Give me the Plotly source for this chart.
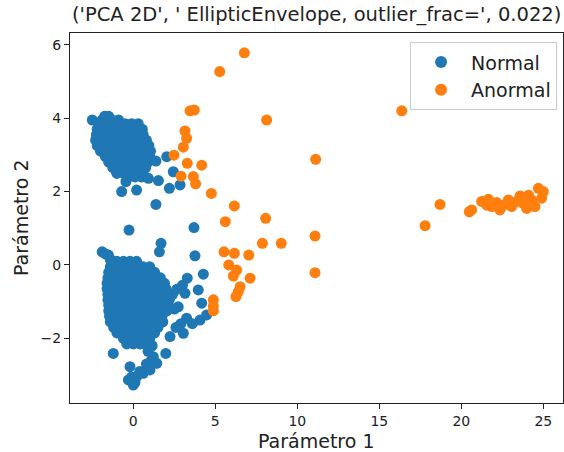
import plotly.graph_objects as go

# ---- Normal points (inliers), grouped by region -----------------------------
# Upper cluster, listed row by row: (y value, x values along that row)
upper_rows = [
    (4.05, [-1.75, -1.5]),
    (3.95, [-2.5, -1.9, -1.3, -0.9]),
    (3.85, [-2.1, -1.7, -1.3, -0.9, -0.5, -0.1, 0.3]),
    (3.70, [-2.2, -1.8, -1.4, -1.0, -0.6, -0.2, 0.2, 0.55]),
    (3.55, [-2.25, -1.85, -1.45, -1.05, -0.65, -0.25, 0.15, 0.6]),
    (3.40, [-2.3, -1.9, -1.5, -1.1, -0.7, -0.3, 0.1, 0.5, 0.8]),
    (3.25, [-2.2, -1.8, -1.4, -1.0, -0.6, -0.2, 0.2, 0.6, 0.95]),
    (3.10, [-2.0, -1.6, -1.2, -0.8, -0.4, 0.0, 0.4, 0.8, 1.05]),
    (2.95, [-1.7, -1.3, -0.9, -0.5, -0.1, 0.3, 0.7, 1.0]),
    (2.80, [-1.5, -1.1, -0.7, -0.3, 0.1, 0.5, 0.9]),
    (2.65, [-1.25, -0.85, -0.45, -0.05, 0.35, 0.75]),
    (2.50, [-1.0, -0.6, -0.2, 0.2, 0.6]),
    (2.40, [-0.3, 0.1, 0.5]),
]
upper_extra_x = [2.04, 1.38, 2.44, 1.53, 2.85, 2.2, 0.2, -0.71, -0.45, 0.92, -1.0, 1.38]
upper_extra_y = [2.95, 2.83, 2.54, 2.30, 2.18, 2.09, 2.04, 2.0, 2.27, 2.36, 2.5, 1.65]

# Lower cluster, same row layout
lower_rows = [
    (0.10, [-1.35, -1.0, -0.6, -0.2, 0.2]),
    (-0.05, [-1.4, -1.0, -0.6, -0.2, 0.2, 0.6, 1.0]),
    (-0.20, [-1.5, -1.1, -0.7, -0.3, 0.1, 0.5, 0.9, 1.3]),
    (-0.35, [-1.55, -1.15, -0.75, -0.35, 0.05, 0.45, 0.85, 1.25, 1.65]),
    (-0.50, [-1.6, -1.2, -0.8, -0.4, 0.0, 0.4, 0.8, 1.2, 1.6, 1.9]),
    (-0.65, [-1.6, -1.2, -0.8, -0.4, 0.0, 0.4, 0.8, 1.2, 1.6, 2.0]),
    (-0.80, [-1.55, -1.15, -0.75, -0.35, 0.05, 0.45, 0.85, 1.25, 1.65, 2.1]),
    (-0.95, [-1.55, -1.15, -0.75, -0.35, 0.05, 0.45, 0.85, 1.25, 1.65, 2.2]),
    (-1.10, [-1.5, -1.1, -0.7, -0.3, 0.1, 0.5, 0.9, 1.3, 1.7, 2.1]),
    (-1.25, [-1.5, -1.1, -0.7, -0.3, 0.1, 0.5, 0.9, 1.3, 1.7, 2.05]),
    (-1.40, [-1.45, -1.05, -0.65, -0.25, 0.15, 0.55, 0.95, 1.35, 1.75]),
    (-1.55, [-1.4, -1.0, -0.6, -0.2, 0.2, 0.6, 1.0, 1.4, 1.8]),
    (-1.70, [-1.2, -0.8, -0.4, 0.0, 0.4, 0.8, 1.2, 1.5]),
    (-1.85, [-1.0, -0.6, -0.2, 0.2, 0.6, 1.0, 1.3]),
    (-2.00, [-0.6, -0.2, 0.2, 0.6, 1.0]),
    (-2.15, [-0.4, 0.0, 0.4, 0.7]),
]
lower_extra_x = [
    -1.9, -1.7, -1.52, -1.4, -0.26, 3.70, 1.69, 1.59, 3.76, 4.27, 3.29, 3.96,
    2.65, 3.15, 4.17, 2.74, 3.25, 4.07, 4.47, 2.24, 3.05, 2.5, 2.4, 2.9, 2.6,
    3.6, 3.0, -1.22, 1.98, 1.22, 1.43, 1.02, 0.61, 0.2, -0.3, 0.0, -0.2, 0.1,
    -0.1, 0.4, 0.8, 1.1, 0.9, 1.15,
]
lower_extra_y = [
    0.36, 0.30, 0.27, 0.15, 0.95, 1.02, 0.59, 0.36, 0.25, -0.25, -0.36, -0.68,
    -0.66, -0.77, -1.04, -1.14, -1.45, -1.5, -1.36, -1.95, -1.86, -1.2, -0.8,
    -1.6, -1.7, -1.6, -0.55, -2.41, -2.41, -2.5, -2.68, -2.86, -2.95, -3.04,
    -3.13, -3.27, -2.77, -3.2, -3.05, -2.9, -2.7, -2.6, -2.35, -2.2,
]

# ---- Outliers flagged by the EllipticEnvelope --------------------------------
anom_x = [
    6.77, 5.27, 3.46, 3.72, 8.13, 11.12, 3.15, 3.25, 3.05, 2.48, 3.29, 4.17,
    2.91, 3.66, 3.80, 4.76, 6.16, 5.61, 8.07, 11.08, 7.87, 9.02, 5.53, 6.16,
    7.04, 5.82, 6.3, 6.1, 7.12, 11.08, 6.51, 6.4, 6.26, 4.88, 4.88, 4.88,
    16.37, 18.7, 17.79, 20.49, 20.63, 21.24, 21.34, 21.65, 21.85, 22.16, 22.35,
    22.56, 21.55, 22.87, 23.07, 23.38, 23.58, 23.78, 23.99, 24.1, 24.29, 24.49,
    24.7, 24.9, 25.0,
]
anom_y = [
    5.78, 5.27, 4.20, 4.22, 3.95, 2.88, 3.65, 3.45, 3.21, 2.99, 2.77, 2.72,
    2.42, 2.41, 2.21, 1.95, 1.61, 1.18, 1.27, 0.79, 0.59, 0.59, 0.36, 0.32,
    0.27, 0.0, -0.14, -0.30, -0.36, -0.21, -0.59, -0.73, -0.86, -0.95, -1.12,
    -1.25, 4.20, 1.65, 1.07, 1.45, 1.50, 1.73, 1.73, 1.79, 1.59, 1.70, 1.50,
    1.63, 1.63, 1.77, 1.59, 1.73, 1.88, 1.68, 1.54, 1.90, 1.77, 1.59, 2.09,
    1.82, 2.00,
]

x_ticks = [0, 5, 10, 15, 20, 25]
y_ticks = [-2, 0, 2, 4, 6]


def expand(rows, extra_x, extra_y):
    xs, ys = [], []
    for yv, row in rows:
        xs.extend(row)
        ys.extend([yv] * len(row))
    return xs + list(extra_x), ys + list(extra_y)


ux, uy = expand(upper_rows, upper_extra_x, upper_extra_y)
lx, ly = expand(lower_rows, lower_extra_x, lower_extra_y)
normal_x = ux + lx
normal_y = uy + ly

FONT = "DejaVu Sans"
TEXT = "#222222"
marker_px = 11

fig = go.Figure()
fig.add_trace(go.Scatter(
    x=normal_x, y=normal_y, mode="markers", name="Normal",
    marker=dict(color="#1f77b4", size=marker_px, line=dict(width=0)),
))
fig.add_trace(go.Scatter(
    x=anom_x, y=anom_y, mode="markers", name="Anormal",
    marker=dict(color="#ff7f0e", size=marker_px, line=dict(width=0)),
))

axis_common = dict(
    showline=True, mirror=True, linecolor=TEXT, linewidth=1,
    ticks="outside", ticklen=5, tickwidth=1, tickcolor=TEXT,
    showgrid=False, zeroline=False,
    tickfont=dict(family=FONT, size=14, color=TEXT),
)

fig.update_layout(
    width=564, height=452,
    margin=dict(l=70, r=1, t=33, b=49),
    paper_bgcolor="white", plot_bgcolor="white",
    font=dict(family=FONT, color=TEXT),
    xaxis=dict(range=[-3.86, 26.2], tickvals=x_ticks, **axis_common),
    yaxis=dict(range=[-3.76, 6.32], tickvals=y_ticks, **axis_common),
    showlegend=True,
    legend=dict(
        x=0.988, y=0.975, xanchor="right", yanchor="top",
        bgcolor="rgba(255,255,255,0.8)", bordercolor="#cccccc", borderwidth=1,
        font=dict(family=FONT, size=19, color=TEXT),
        itemsizing="constant", itemwidth=50,
    ),
    annotations=[
        dict(text="('PCA 2D', ' EllipticEnvelope, outlier_frac=', 0.022)",
             xref="paper", yref="paper", x=0.5, y=1.0, yshift=5,
             xanchor="center", yanchor="bottom", showarrow=False,
             font=dict(family=FONT, size=19.5, color=TEXT)),
        dict(text="Parámetro 1", xref="paper", yref="paper", x=0.5, y=0,
             yshift=-25, xanchor="center", yanchor="top", showarrow=False,
             font=dict(family=FONT, size=19, color=TEXT)),
        dict(text="Parámetro 2", xref="paper", yref="paper", x=0, y=0.5,
             xshift=-36, xanchor="right", yanchor="middle", textangle=-90,
             showarrow=False,
             font=dict(family=FONT, size=19, color=TEXT)),
    ],
)

fig.write_html("out.html")
